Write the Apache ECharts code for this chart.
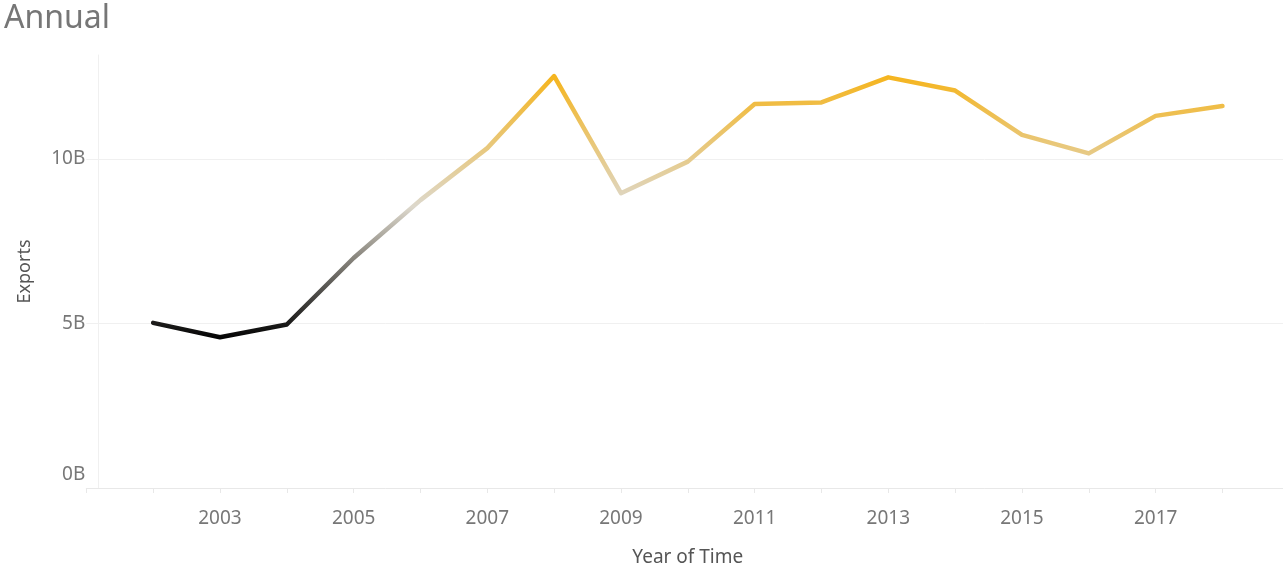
<!DOCTYPE html>
<html>
<head>
<meta charset="utf-8">
<title>Annual</title>
<script src="https://cdn.jsdelivr.net/npm/echarts@6/dist/echarts.min.js"></script>
<style>
  html, body { margin: 0; padding: 0; background: #fff; }
  #chart { width: 1283px; height: 569px; }
</style>
</head>
<body>
<div id="chart"></div>
<script>
// data (exports in billions)
var years = [2002, 2003, 2004, 2005, 2006, 2007, 2008, 2009, 2010, 2011, 2012, 2013, 2014, 2015, 2016, 2017, 2018];
var exports = [5.02, 4.58, 4.97, 6.99, 8.75, 10.33, 12.52, 8.96, 9.92, 11.67, 11.72, 12.48, 12.08, 10.73, 10.17, 11.31, 11.61];
var yTicks = [0, 5, 10];
var xLabelYears = [2003, 2005, 2007, 2009, 2011, 2013, 2015, 2017];

var points = years.map(function (y, i) { return [y, exports[i]]; });

var myChart = echarts.init(document.getElementById('chart'));
var font = 'Noto Sans';

myChart.setOption({
  animation: false,
  title: {
    text: 'Annual',
    left: 4,
    top: 3,
    padding: 0,
    textStyle: { color: '#767676', fontFamily: font, fontWeight: 'normal', fontSize: 32 }
  },
  grid: { left: 86.3, top: 55, width: 1203, height: 433, outerBoundsMode: 'none' },
  visualMap: {
    type: 'continuous',
    show: false,
    dimension: 1,
    min: Math.min.apply(null, exports),
    max: Math.max.apply(null, exports),
    inRange: { color: ['#050505', '#ddd8cc', '#f5b51f'] }
  },
  xAxis: {
    type: 'value',
    min: 2001,
    max: 2019,
    interval: 1,
    name: 'Year of Time',
    nameLocation: 'middle',
    nameGap: 60,
    nameTextStyle: { color: '#555', fontFamily: font, fontSize: 19 },
    axisLine: { show: true, lineStyle: { color: '#e8e8e8', width: 1 } },
    axisTick: { show: true, length: 5, lineStyle: { color: '#e8e8e8' } },
    splitLine: { show: false },
    axisLabel: {
      margin: 21,
      color: '#777',
      fontFamily: font,
      fontSize: 19,
      formatter: function (v) { return xLabelYears.indexOf(v) >= 0 ? String(v) : ''; }
    }
  },
  yAxis: {
    type: 'value',
    min: 0,
    max: 13.16,
    interval: 5,
    offset: -12,
    name: 'Exports',
    nameLocation: 'middle',
    nameGap: 64,
    nameTextStyle: { color: '#555', fontFamily: font, fontSize: 18 },
    axisLine: { show: true, lineStyle: { color: '#f0f0f0', width: 1 } },
    axisTick: { show: false },
    splitLine: {
      show: true,
      // last colour hides the line at the top edge (max is not a tick)
      lineStyle: { color: ['#f0f0f0', '#f0f0f0', '#f0f0f0', 'rgba(0,0,0,0)'], width: 1 }
    },
    axisLabel: {
      margin: 13,
      color: '#777',
      fontFamily: font,
      fontSize: 19,
      showMaxLabel: false,
      verticalAlignMinLabel: 'bottom',
      formatter: function (v) {
        if (v === 0) return '{z|0B}';
        return yTicks.indexOf(v) >= 0 ? v + 'B' : '';
      },
      rich: {
        z: { color: '#777', fontFamily: font, fontSize: 19, padding: [0, 0, 4, 0] }
      }
    }
  },
  series: [
    {
      name: 'Exports',
      type: 'line',
      data: points,
      showSymbol: false,
      smooth: false,
      lineStyle: { width: 4.5, cap: 'round', join: 'round' }
    }
  ]
});
</script>
</body>
</html>
